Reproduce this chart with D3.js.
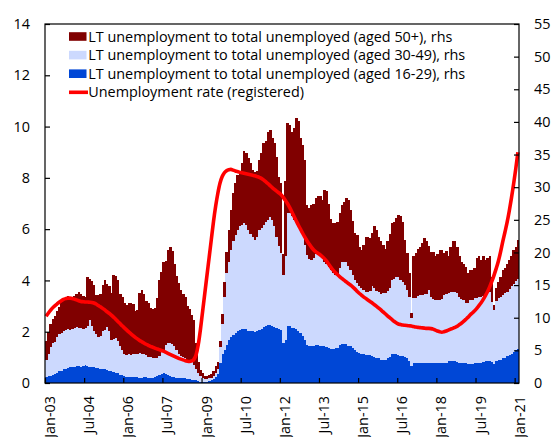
<!DOCTYPE html>
<html>
<head>
<meta charset="utf-8">
<script src="https://cdn.jsdelivr.net/npm/d3@7"></script>
<style>
  html, body { margin: 0; padding: 0; background: #fff; }
  svg { display: block; }
  text { font-family: "Open Sans", "Noto Sans", sans-serif; fill: #000; }
</style>
</head>
<body>
<svg id="chart" width="552" height="437"></svg>
<script>
// Monthly series, Jan-2003 onwards (rhs, %)
const lt1629 = [0.9,1.0,1.1,1.2,1.4,1.6,1.8,1.9,2.1,2.2,2.3,2.4,2.5,2.5,2.6,2.6,2.5,2.6,2.7,2.6,2.5,2.4,2.4,2.3,2.3,2.2,2.1,2.1,2.0,1.9,1.8,1.7,1.6,1.5,1.3,1.2,1.0,0.9,0.9,0.9,0.9,0.9,0.9,0.8,0.8,0.9,0.9,0.8,0.8,0.8,0.9,1.0,1.2,1.4,1.5,1.4,1.2,1.0,0.9,0.9,0.8,0.8,0.7,0.7,0.7,0.6,0.6,0.5,0.5,0.4,0.3,0.2,0.1,0.1,0.2,0.3,0.4,0.6,0.9,1.4,3.0,4.4,5.1,5.8,6.6,7.1,7.4,7.6,8.0,8.1,8.2,8.2,8.2,8.0,7.9,7.9,7.8,7.9,8.1,8.2,8.6,8.7,8.9,8.9,8.7,8.6,8.4,8.2,8.1,6.2,6.6,8.7,8.7,8.5,8.4,8.2,8.0,7.7,7.2,6.6,5.8,5.6,5.7,5.7,5.8,5.8,5.7,5.7,5.6,5.5,5.4,5.2,5.2,5.3,5.4,5.8,5.9,5.9,5.9,5.7,5.6,5.3,5.0,4.8,4.6,4.5,4.4,4.3,4.3,4.3,4.2,4.0,3.9,3.8,3.6,3.5,3.6,3.8,4.0,4.4,4.4,4.4,4.3,4.2,4.1,4.0,3.8,3.4,2.6,3.1,3.1,3.1,3.1,3.1,3.0,3.0,3.1,3.1,3.1,3.1,3.0,3.0,3.0,3.1,3.1,3.3,3.4,3.4,3.3,3.2,3.0,3.0,3.0,3.0,2.9,2.9,2.9,3.0,3.1,3.1,3.1,3.2,3.3,3.4,3.4,3.2,2.9,3.4,3.5,3.6,3.8,3.9,4.1,4.3,4.5,4.8,5.0,5.2];
const lt3049 = [2.7,3.5,4.4,4.9,4.9,5.4,5.7,5.8,5.9,5.9,5.9,5.7,5.8,5.9,6.0,5.9,5.9,5.7,5.8,6.2,7.2,6.3,5.5,5.2,4.8,5.0,5.8,6.0,6.6,6.0,4.8,5.1,5.3,5.0,4.3,3.8,3.5,3.4,3.5,3.4,3.5,3.6,3.6,3.8,3.7,3.6,3.4,3.2,3.2,3.1,2.9,2.8,3.0,3.4,3.6,4.4,4.9,5.1,5.1,4.7,4.2,3.7,3.5,3.3,3.1,2.9,2.8,2.7,2.3,1.8,1.3,0.9,0.7,0.5,0.4,0.4,0.4,0.4,0.7,0.8,2.5,4.6,8.1,11.0,11.9,13.3,14.4,15.0,15.5,15.9,16.0,16.3,16.0,15.5,15.0,14.5,14.1,14.4,15.4,15.6,15.6,15.9,16.1,16.6,16.3,15.4,14.0,12.8,11.8,10.3,12.8,17.3,17.3,17.1,16.6,16.8,16.5,15.9,15.4,14.6,13.8,13.4,13.2,13.4,14.0,14.1,13.9,13.6,13.0,12.7,12.4,12.1,11.7,11.3,11.2,11.8,12.6,12.7,12.7,12.3,11.7,11.2,10.8,10.5,10.3,10.1,9.9,9.7,9.7,9.8,10.6,10.5,10.2,10.1,10.0,10.3,10.2,10.3,10.6,11.4,11.6,11.9,11.9,11.6,11.4,11.0,10.5,9.8,7.4,9.9,9.9,10.3,10.4,10.4,10.6,10.7,11.2,10.1,9.7,9.6,9.7,9.7,9.9,10.4,10.5,10.5,10.6,10.6,10.7,10.6,10.2,9.8,9.7,9.3,9.3,9.8,9.8,10.0,9.9,10.1,10.1,10.2,10.2,10.4,10.6,9.2,8.3,9.1,9.5,9.6,9.7,9.9,9.9,10.1,10.3,10.4,10.6,10.7];
const lt50plus = [2.9,3.3,3.6,3.7,4.0,4.0,4.1,4.8,4.8,5.1,5.1,5.0,4.7,5.0,5.0,5.5,5.3,5.1,4.7,7.5,6.3,6.9,7.1,6.0,6.4,6.5,7.1,7.7,6.6,6.9,7.2,9.8,9.5,9.3,8.1,8.2,7.8,7.7,7.8,7.9,7.7,6.5,6.7,9.2,9.8,9.1,8.3,8.2,7.5,7.5,7.7,9.2,11.6,12.2,13.5,12.9,14.3,14.7,14.2,12.7,11.4,10.8,10.1,9.6,9.4,8.3,7.9,7.2,6.9,3.9,1.6,0.9,0.8,0.4,0.4,0.5,0.6,0.8,1.0,1.0,1.0,1.5,2.3,3.2,5.0,6.1,7.3,8.0,8.4,8.1,9.5,11.0,11.1,10.9,10.8,10.3,10.5,10.2,10.7,11.4,12.5,12.4,13.5,13.3,12.5,12.7,12.3,10.5,10.7,3.3,11.5,13.8,13.5,12.9,14.0,15.6,15.7,13.9,13.9,13.0,7.6,7.8,8.3,8.4,8.5,8.7,9.0,8.7,11.0,11.2,9.7,7.9,7.6,7.9,8.0,8.4,8.7,9.2,9.7,10.0,9.2,8.3,7.2,7.3,6.0,5.8,6.9,8.4,8.4,8.1,8.2,9.5,9.4,8.5,8.1,7.4,6.8,7.6,8.3,8.7,8.7,9.0,9.6,9.8,9.2,6.9,5.6,3.6,0.8,6.4,6.9,7.1,7.4,7.9,8.6,8.1,6.7,6.9,7.3,6.7,7.1,7.7,7.5,6.4,6.6,5.6,6.9,7.7,7.7,7.0,6.2,5.8,5.6,5.5,4.6,4.6,4.6,4.6,6.1,6.2,5.7,6.0,5.4,5.4,5.4,3.9,0.7,2.0,2.5,3.1,3.8,3.8,4.3,4.5,4.6,5.2,5.2,6.0];
// Registered unemployment rate (lhs, %)
const unempRate = [2.60,2.72,2.83,2.93,3.01,3.08,3.15,3.21,3.26,3.29,3.31,3.31,3.30,3.27,3.24,3.21,3.18,3.17,3.16,3.16,3.15,3.14,3.12,3.08,3.02,2.97,2.91,2.85,2.78,2.72,2.65,2.57,2.49,2.40,2.32,2.23,2.15,2.07,1.99,1.92,1.85,1.78,1.72,1.66,1.61,1.56,1.51,1.47,1.43,1.40,1.36,1.33,1.30,1.27,1.24,1.20,1.16,1.12,1.08,1.04,1.00,0.96,0.93,0.90,0.87,0.85,0.84,0.86,0.92,1.10,1.50,2.10,2.80,3.50,4.20,4.90,5.60,6.30,6.90,7.40,7.80,8.05,8.20,8.28,8.32,8.33,8.30,8.27,8.25,8.22,8.20,8.18,8.16,8.14,8.12,8.10,8.08,8.05,8.02,7.98,7.92,7.85,7.78,7.70,7.62,7.55,7.48,7.42,7.35,7.25,7.13,7.00,6.85,6.68,6.50,6.33,6.16,6.00,5.84,5.69,5.55,5.42,5.30,5.20,5.12,5.06,5.00,4.93,4.85,4.75,4.63,4.51,4.40,4.31,4.23,4.15,4.08,4.01,3.95,3.88,3.82,3.75,3.67,3.58,3.50,3.43,3.36,3.30,3.24,3.18,3.12,3.05,2.99,2.92,2.85,2.77,2.70,2.62,2.55,2.48,2.41,2.35,2.30,2.28,2.26,2.25,2.24,2.23,2.22,2.20,2.18,2.17,2.16,2.15,2.14,2.13,2.13,2.12,2.10,2.06,2.03,2.00,1.98,2.00,2.03,2.06,2.10,2.13,2.17,2.21,2.27,2.33,2.40,2.48,2.56,2.65,2.73,2.81,2.90,3.01,3.12,3.25,3.40,3.56,3.75,3.96,4.20,4.46,4.75,5.10,5.50,5.87,6.25,6.70,7.20,7.75,8.35,9.00];

const tickLabels = ["Jan-03","Jul-04","Jan-06","Jul-07","Jan-09","Jul-10","Jan-12","Jul-13","Jan-15","Jul-16","Jan-18","Jul-19","Jan-21"];
const tickStep = 18; // months between labelled ticks
const leftTicks = [0, 2, 4, 6, 8, 10, 12, 14];
const rightTicks = [0, 5, 10, 15, 20, 25, 30, 35, 40, 45, 50, 55];

const seriesNames = [
  "LT unemployment to total unemployed (aged 16-29), rhs",
  "LT unemployment to total unemployed (aged 30-49), rhs",
  "LT unemployment to total unemployed (aged 50+), rhs"
];
const lineName = "Unemployment rate (registered)";
const colors = { s50: "#800000", s3049: "#ccd9fe", s1629: "#0047d6", line: "#ff0000" };

const margin = { left: 45, right: 33, top: 24, bottom: 54 };
const W = 552, H = 437;
const plotW = W - margin.left - margin.right;
const plotH = H - margin.top - margin.bottom;
const n = lt1629.length;

const svg = d3.select("#chart");
const g = svg.append("g").attr("transform", `translate(${margin.left},${margin.top})`);

const x = d3.scaleLinear().domain([0, n]).range([0, plotW]);
const yL = d3.scaleLinear().domain([0, 14]).range([plotH, 0]);
const yR = d3.scaleLinear().domain([0, 55]).range([plotH, 0]);

const rows = d3.range(n).map(i => ({ i, s1629: lt1629[i], s3049: lt3049[i], s50: lt50plus[i] }));
const stack = d3.stack().keys(["s1629", "s3049", "s50"]);
const layers = stack(rows);

// stacked monthly columns
g.append("g").selectAll("g")
  .data(layers)
  .join("g")
  .attr("fill", d => colors[d.key])
  .selectAll("rect")
  .data(d => d)
  .join("rect")
  .attr("x", d => x(d.data.i))
  .attr("width", d => x(d.data.i + 1) - x(d.data.i) + 0.4)
  .attr("y", d => yR(d[1]))
  .attr("height", d => Math.max(0, yR(d[0]) - yR(d[1])))
  .attr("shape-rendering", "crispEdges");

// unemployment rate line (lhs)
const line = d3.line()
  .x((d, i) => x(i + 0.5))
  .y(d => yL(d))
  .curve(d3.curveMonotoneX);
g.append("path")
  .datum(unempRate)
  .attr("fill", "none")
  .attr("stroke", colors.line)
  .attr("stroke-width", 3.6)
  .attr("stroke-linejoin", "round")
  .attr("d", line);

// frame
g.append("rect")
  .attr("x", 0).attr("y", 0).attr("width", plotW).attr("height", plotH)
  .attr("fill", "none").attr("stroke", "#000").attr("stroke-width", 1.2);

// axes
const fs = "14.4px";
const axL = g.append("g")
  .call(d3.axisLeft(yL).tickValues(leftTicks).tickSize(-5).tickPadding(15));
const axR = g.append("g").attr("transform", `translate(${plotW},0)`)
  .call(d3.axisRight(yR).tickValues(rightTicks).tickSize(-5).tickPadding(15));
const axB = g.append("g").attr("transform", `translate(0,${plotH})`)
  .call(d3.axisBottom(x)
    .tickValues(tickLabels.map((_, k) => k * tickStep))
    .tickFormat((_, k) => tickLabels[k])
    .tickSize(-5));
[axL, axR, axB].forEach(a => {
  a.select(".domain").remove();
  a.selectAll("line").attr("stroke", "#000").attr("stroke-width", 1.2);
  a.selectAll("text").attr("font-size", fs).attr("font-family", null);
});
axB.selectAll("text")
  .attr("transform", "rotate(-90)")
  .attr("text-anchor", "end")
  .attr("x", -13)
  .attr("y", 0)
  .attr("dy", "0.66em");

// legend
const legend = g.append("g").attr("transform", "translate(24,12.5)");
const legItems = [
  { label: seriesNames[2], color: colors.s50, type: "rect" },
  { label: seriesNames[1], color: colors.s3049, type: "rect" },
  { label: seriesNames[0], color: colors.s1629, type: "rect" },
  { label: lineName, color: colors.line, type: "line" }
];
const li = legend.selectAll("g").data(legItems).join("g")
  .attr("transform", (d, k) => `translate(0,${k * 18.6})`);
li.filter(d => d.type === "rect").append("rect")
  .attr("x", 0).attr("y", -4.3).attr("width", 17.5).attr("height", 8.6)
  .attr("fill", d => d.color);
li.filter(d => d.type === "line").append("line")
  .attr("x1", 0).attr("x2", 19).attr("y1", 0).attr("y2", 0)
  .attr("stroke", d => d.color).attr("stroke-width", 3.6);
li.append("text")
  .attr("x", 19.3).attr("y", 0).attr("dy", "0.35em")
  .attr("font-size", fs)
  .text(d => d.label);
</script>
</body>
</html>
